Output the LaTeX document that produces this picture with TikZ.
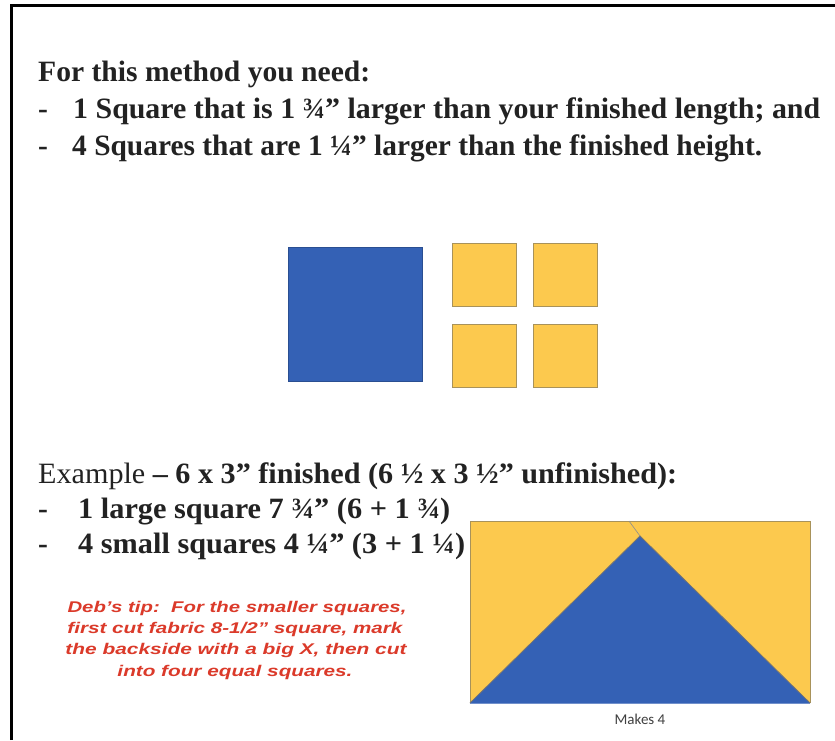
\documentclass[tikz,border=0pt]{standalone}
\usepackage{fontspec}
\usepackage{graphicx}
\setmainfont{Liberation Serif}
\newfontfamily\tipfont{Liberation Sans}
\newfontfamily\capfont{Carlito}
\definecolor{qblue}{HTML}{3461B5}
\definecolor{qyellow}{HTML}{FCC94E}
\definecolor{qedge}{HTML}{A8925A}
\definecolor{tipred}{HTML}{DB3A2A}
\definecolor{ink}{HTML}{222222}
\newcommand{\fitw}[2]{\resizebox{#1}{\height}{#2}}
\tikzset{
  bigtxt/.style={font=\fontsize{29.5}{31}\selectfont\bfseries, text=ink, inner sep=0pt, anchor=base west},
  tiptxt/.style={font=\tipfont\fontsize{15.5}{17}\selectfont\bfseries\itshape, text=tipred, inner sep=0pt, anchor=base},
  bluepatch/.style={fill=qblue, draw=qblue!80!black, line width=0.6pt},
  yellowpatch/.style={fill=qyellow, draw=qedge, line width=1pt},
  frameline/.style={line width=2.2pt, black}
}
\begin{document}
\begin{tikzpicture}[x=1pt,y=-1pt]
\useasboundingbox (0,0) rectangle (835,740);
\fill[white] (0,0) rectangle (835,740);
% frame
\coordinate (fbl) at (11.5,740);
\coordinate (ftl) at (11.5,5.5);
\coordinate (ftr) at (835,5.5);
\draw[frameline] (fbl) -- (ftl) -- (ftr);

% top text
\node[bigtxt] (l1) at (38,81) {\fitw{332pt}{For this method you need:}};
\node[bigtxt] (d2) at (38,118) {-};
\node[bigtxt] (l2) at (73,118) {\fitw{747pt}{1 Square that is 1 ¾” larger than your finished length; and}};
\node[bigtxt] (d3) at (38,155) {-};
\node[bigtxt] (l3) at (72,155) {\fitw{690pt}{4 Squares that are 1 ¼” larger than the finished height.}};

% squares
\draw[bluepatch] (288,247) rectangle (422,381);
\draw[yellowpatch] (452,243) rectangle (516,306);
\draw[yellowpatch] (533,243) rectangle (597,306);
\draw[yellowpatch] (452,324) rectangle (516,387);
\draw[yellowpatch] (533,324) rectangle (597,387);

% example text
\node[bigtxt] (ex) at (38,483) {\fitw{639pt}{\mdseries Example \bfseries – 6 x 3” finished (6 ½ x 3 ½” unfinished):}};
\node[bigtxt] (d4) at (38,518) {-};
\node[bigtxt] (e1) at (78,518) {\fitw{372pt}{1 large square 7 ¾” (6 + 1 ¾)}};
\node[bigtxt] (d5) at (38,553) {-};
\node[bigtxt] (e2) at (78,553) {\fitw{387pt}{4 small squares 4 ¼” (3 + 1 ¼)}};

% tip
\node[tiptxt] (t1) at (237,612) {\fitw{339pt}{Deb’s tip:\ \ For the smaller squares,}};
\node[tiptxt] (t2) at (235,633) {\fitw{335pt}{first cut fabric 8-1/2” square, mark}};
\node[tiptxt] (t3) at (236,654) {\fitw{341pt}{the backside with a big X, then cut}};
\node[tiptxt] (t4) at (235,676) {\fitw{235pt}{into four equal squares.}};

% flying geese block
\coordinate (rtl) at (470,521);
\coordinate (rtr) at (810,521);
\coordinate (rbr) at (810,703);
\coordinate (rbl) at (470,703);
\coordinate (apex) at (640,536);
\coordinate (crease) at (629,521);
\fill[qyellow] (rtl) -- (crease) -- (apex) -- (rbl) -- cycle;
\fill[qyellow] (crease) -- (rtr) -- (rbr) -- (apex) -- cycle;
\fill[qblue] (rbl) -- (apex) -- (rbr) -- cycle;
\draw[qedge, line width=0.9pt] (rbl) -- (rtl) -- (rtr) -- (rbr);
\draw[qblue!70!white, line width=0.9pt] (rbl) -- (rbr);
\draw[black!55, line width=0.8pt] (rbl) -- (apex) -- (rbr);
\draw[black!45, line width=0.6pt] (apex) -- (crease);
\node[font=\capfont\fontsize{15}{17}\selectfont, text=black!75, inner sep=0pt, anchor=base] (mk) at (640,724) {Makes 4};
\end{tikzpicture}
\end{document}
